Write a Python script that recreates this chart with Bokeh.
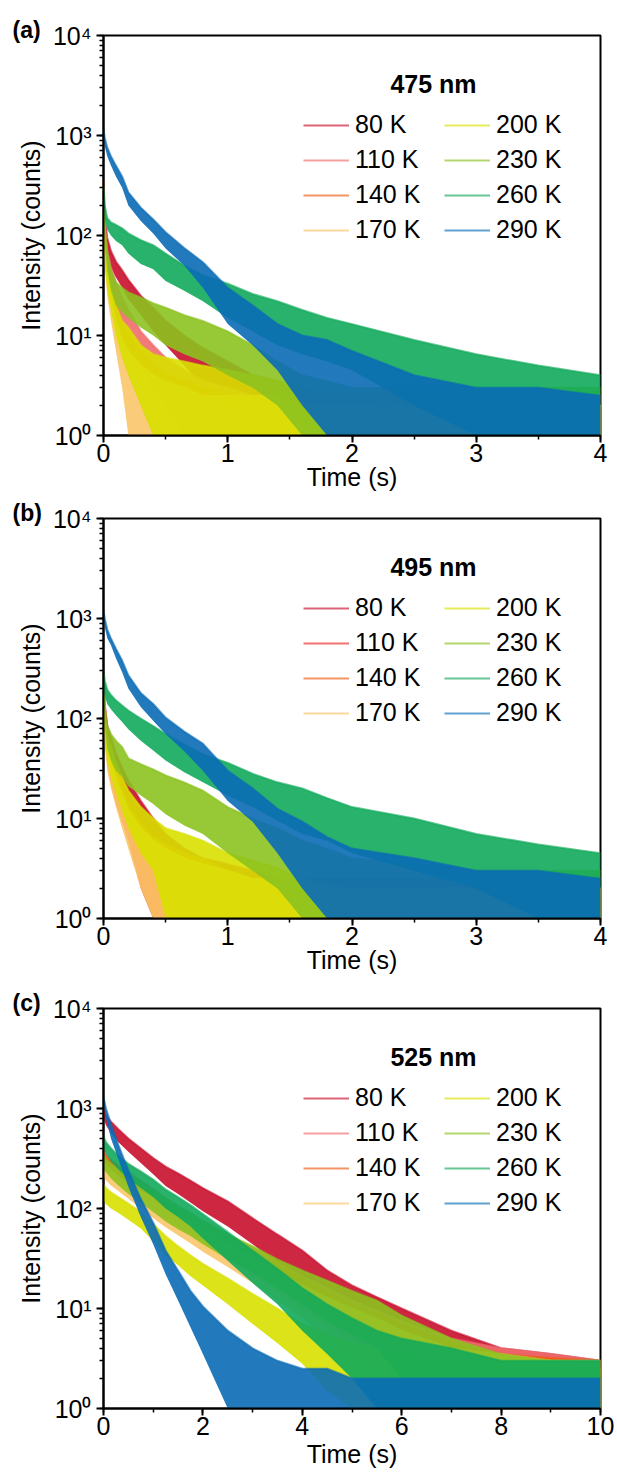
from bokeh.plotting import figure
from bokeh.models import (Range1d, Legend, LegendItem, Label, SingleIntervalTicker,
                          LogTicker)
from bokeh.layouts import column
from bokeh.embed import file_html
from bokeh.resources import INLINE

FONT = "Liberation Sans"

TEMPS = ["80 K", "110 K", "140 K", "170 K", "200 K", "230 K", "260 K", "290 K"]
COLORS_AC = ["#c8102e", "#f06c6c", "#f05a14", "#f9c56a", "#d8e000", "#8cc21f", "#12aa5b", "#0a6cb6"]
COLORS_B = ["#c8102e", "#e8281e", "#f05a14", "#f9c56a", "#d8e000", "#8cc21f", "#12aa5b", "#0a6cb6"]

Y_TICKS = [1, 10, 100, 1000, 10000]
Y_TICK_LABELS = ["10\u2070", "10\u00b9", "10\u00b2", "10\u00b3", "10\u2074"]

# ---------------- panel (a) 475 nm : time grid (s) and noise envelopes (counts)
T_AB = [0, 0.01, 0.03, 0.06, 0.1, 0.15, 0.2, 0.3, 0.4, 0.5, 0.65, 0.8, 1.0, 1.2, 1.4, 1.6, 1.8, 2.0, 2.5, 3.0, 3.5, 4.0]

A80_HI = [320, 160, 95, 70, 55, 45, 36, 25, 19, 14, 10, 7.5, 5.5, 4, 3.5, 3, 2.5, 2.5, 2.5, 2.5, 2.5, 2.5]
A80_LO = [220, 110, 65, 48, 38, 30, 23, 16, 11, 8, 5, 3, 2, 1, 1, 1, 1, 1, 1, 1, 1, 1]
A110_HI = [300, 130, 70, 48, 34, 24, 18, 11, 8, 6, 4.5, 3.5, 3, 2.5, 2.5, 2.5, 2.5, 2.5, 2.5, 2, 2, 2]
A110_LO = [200, 80, 45, 30, 20, 13, 9, 5, 3, 2, 1, 1, 1, 1, 1, 1, 1, 1, 1, 1, 1, 1]
A140_HI = [350, 110, 55, 32, 20, 13, 10, 7, 5, 4, 3.5, 3, 2.5, 2.5, 2.5, 2.5, 2.5, 2.5, 2, 2, 2, 2]
A140_LO = [200, 70, 35, 20, 11, 6, 4, 2, 1, 1, 1, 1, 1, 1, 1, 1, 1, 1, 1, 1, 1, 1]
A170_HI = [300, 80, 40, 24, 14, 9, 7, 5, 4, 3.5, 3, 2.5, 2.5, 2.5, 2.5, 2, 2, 2, 2, 2, 2, 2]
A170_LO = [180, 50, 25, 14, 7, 3, 1, 1, 1, 1, 1, 1, 1, 1, 1, 1, 1, 1, 1, 1, 1, 1]
A200_HI = [250, 90, 45, 30, 20, 14, 12, 8, 6.5, 6, 5.5, 5, 4.5, 4, 3.5, 3, 2.5, 2.5, 2, 2, 2, 2]
A200_LO = [150, 55, 28, 18, 10, 6, 4, 2, 1, 1, 1, 1, 1, 1, 1, 1, 1, 1, 1, 1, 1, 1]
A230_HI = [300, 120, 70, 45, 34, 30, 27, 24, 21, 19, 16, 14, 11, 8, 5.5, 4, 3.5, 3, 3, 3, 3, 3]
A230_LO = [200, 80, 45, 28, 20, 17, 15, 12, 10, 8, 6.5, 5.5, 4, 3, 2, 1, 1, 1, 1, 1, 1, 1]
A260_HI = [320, 200, 150, 135, 128, 118, 105, 90, 80, 66, 50, 40, 33, 26, 22, 18, 15, 13, 9, 6.5, 5, 4]
A260_LO = [250, 150, 115, 100, 88, 80, 66, 52, 46, 35, 28, 22, 15, 11, 8, 6.5, 5.5, 4.5, 2, 1, 1, 1]
A290_HI = [1150, 950, 760, 620, 500, 390, 270, 190, 145, 108, 75, 54, 30, 20, 13, 10, 9, 7, 4, 3, 3, 2.5]
A290_LO = [950, 780, 620, 500, 390, 300, 200, 140, 105, 74, 50, 30, 13, 8, 4.5, 2, 1, 1, 1, 1, 1, 1]

# ---------------- panel (b) 495 nm
B80_HI = [300, 140, 85, 65, 45, 32, 24, 15, 10, 7, 5, 4, 3.5, 3, 2.5, 2.5, 2.5, 2.5, 2.5, 2.5, 2, 2]
B80_LO = [200, 90, 55, 40, 27, 18, 13, 7, 4, 2, 1, 1, 1, 1, 1, 1, 1, 1, 1, 1, 1, 1]
B110_HI = [300, 130, 80, 60, 38, 22, 14, 8, 6, 5, 4, 3.5, 3, 2.5, 2.5, 2, 2, 2, 2, 2, 2, 2]
B110_LO = [200, 80, 50, 35, 20, 10, 6, 2, 1, 1, 1, 1, 1, 1, 1, 1, 1, 1, 1, 1, 1, 1]
B140_HI = [300, 100, 60, 40, 28, 19, 13, 9, 6.5, 5.5, 4.5, 4, 3, 2.5, 2.5, 2.5, 2, 2, 2, 2, 2, 2]
B140_LO = [180, 60, 35, 22, 14, 9, 6, 3, 1, 1, 1, 1, 1, 1, 1, 1, 1, 1, 1, 1, 1, 1]
B170_HI = [280, 90, 50, 35, 25, 17, 12, 8, 6, 5, 4, 3.5, 3, 2.5, 2.5, 2.5, 2, 2, 2, 2, 2, 2]
B170_LO = [160, 55, 30, 20, 13, 8, 5, 2, 1, 1, 1, 1, 1, 1, 1, 1, 1, 1, 1, 1, 1, 1]
B200_HI = [250, 100, 65, 52, 36, 26, 19, 13, 10, 8, 7, 6, 4.5, 3.8, 3.2, 2.5, 2.2, 2, 2, 2, 2, 2]
B200_LO = [150, 60, 38, 26, 18, 12, 8, 4.5, 3, 1, 1, 1, 1, 1, 1, 1, 1, 1, 1, 1, 1, 1]
B230_HI = [280, 130, 85, 70, 60, 52, 40, 35, 31, 27, 23, 19, 13, 10, 8, 6, 5, 4, 3.5, 3, 3, 3]
B230_LO = [180, 85, 50, 38, 30, 26, 21, 17, 14, 11, 8.5, 7, 4.5, 3, 2, 1, 1, 1, 1, 1, 1, 1]
B260_HI = [300, 240, 195, 172, 152, 135, 120, 100, 84, 70, 55, 44, 36, 28, 23, 20, 16, 13, 10, 7, 5.5, 4.5]
B260_LO = [200, 170, 140, 124, 108, 92, 78, 60, 48, 38, 29, 23, 17, 13, 9.5, 7, 6, 4.5, 3, 2, 1, 1]
B290_HI = [1200, 1000, 780, 630, 500, 380, 270, 180, 140, 102, 74, 56, 30, 20, 12.5, 9.3, 6.5, 5, 4, 3, 3, 2.5]
B290_LO = [1000, 820, 640, 540, 400, 290, 200, 130, 95, 70, 47, 30, 15, 9.3, 4.5, 2, 1, 1, 1, 1, 1, 1]

# ---------------- panel (c) 525 nm
T_C = [0, 0.05, 0.15, 0.3, 0.5, 0.75, 1.0, 1.25, 1.5, 1.75, 2.0, 2.5, 3.0, 3.5, 4.0, 4.5, 5.0, 5.5, 6.0, 7.0, 8.0, 9.0, 10.0]

C80_HI = [1000, 850, 740, 620, 500, 400, 320, 262, 225, 190, 160, 118, 80, 55, 38, 24, 17, 13, 10, 6, 4, 3.5, 3]
C80_LO = [800, 680, 570, 460, 370, 285, 220, 168, 140, 115, 94, 66, 44, 28, 19, 12, 8.5, 6, 4, 2, 1, 1, 1]
C110_HI = [400, 350, 310, 270, 230, 190, 158, 128, 106, 90, 75, 55, 40, 29, 21, 16, 12, 9.5, 7.5, 5, 4, 3.5, 3]
C110_LO = [290, 255, 225, 195, 160, 130, 105, 84, 69, 57, 47, 33, 23, 16, 10.5, 7, 5, 3.5, 2.5, 1, 1, 1, 1]
C140_HI = [370, 330, 300, 260, 220, 185, 150, 122, 102, 86, 72, 52, 38, 28, 20, 15, 11, 9, 7, 4.5, 3.5, 3.2, 3]
C140_LO = [270, 240, 215, 185, 155, 125, 100, 80, 66, 55, 45, 31, 22, 15, 10, 6.5, 4.5, 3, 2, 1, 1, 1, 1]
C170_HI = [300, 270, 240, 210, 180, 150, 125, 100, 85, 72, 60, 44, 32, 23, 17, 13, 10, 8, 6, 4, 3.5, 3, 3]
C170_LO = [210, 190, 170, 150, 125, 100, 80, 65, 54, 45, 37, 26, 18, 12, 8, 5, 3.5, 2.5, 1.5, 1, 1, 1, 1]
C200_HI = [175, 160, 145, 130, 112, 92, 70, 53, 42, 34, 28, 20, 14, 10, 7, 5.5, 4.5, 4, 3.5, 3, 3, 3, 2.5]
C200_LO = [120, 110, 100, 90, 77, 63, 47, 34, 27, 21, 17, 11, 7, 4.5, 2.8, 1.5, 1, 1, 1, 1, 1, 1, 1]
C230_HI = [340, 310, 280, 245, 215, 180, 150, 124, 105, 90, 75, 55, 42, 31, 24, 19, 15, 12, 8.5, 5, 3.5, 3, 3]
C230_LO = [250, 230, 200, 170, 140, 115, 92, 74, 62, 53, 44, 31, 23, 16, 11, 7.5, 5.5, 4, 2, 1, 1, 1, 1]
C260_HI = [520, 460, 400, 335, 280, 235, 195, 155, 130, 108, 88, 58, 38, 25, 16, 11, 8, 6, 5, 4, 3, 3, 3]
C260_LO = [400, 350, 295, 245, 200, 160, 130, 100, 82, 66, 50, 30, 18, 11, 6, 3.5, 2, 1, 1, 1, 1, 1, 1]
C290_HI = [1300, 1000, 700, 430, 240, 125, 72, 38, 24, 15, 10.5, 6, 4, 3, 2.5, 2.5, 2, 2, 2, 2, 2, 2, 2]
C290_LO = [1100, 800, 500, 310, 165, 82, 44, 22, 12, 6.5, 3.5, 1, 1, 1, 1, 1, 1, 1, 1, 1, 1, 1, 1]


def make_panel(letter, title, times, his, los, colors, xmax, xstep,
               height, top, bottom, xlabel_standoff):
    p = figure(width=617, height=height, output_backend="svg", toolbar_location=None,
               y_axis_type="log", x_range=Range1d(0, xmax), y_range=Range1d(1, 10000),
               min_border_left=103, min_border_right=17, min_border_top=top,
               min_border_bottom=bottom)
    p.xgrid.visible = False
    p.ygrid.visible = False
    p.outline_line_color = "black"
    p.outline_line_width = 2
    p.outline_line_alpha = 1
    p.background_fill_color = "white"
    p.border_fill_color = "white"

    # panel letter as the figure title, pushed to the left edge and down
    p.title.text = letter
    p.title.align = "left"
    p.title.offset = -91
    p.title.standoff = -14
    p.title.text_font = FONT
    p.title.text_font_size = "23px"
    p.title.text_font_style = "bold"
    p.title.text_color = "black"

    lines = []
    for hi, lo, c in zip(his, los, colors):
        p.varea(x=times, y1=lo, y2=hi, fill_color=c, fill_alpha=0.9)
        r = p.line(times, hi, line_color=c, line_width=2, line_alpha=0.65)
        lines.append(r)

    # axes
    p.xaxis.ticker = SingleIntervalTicker(interval=xstep, num_minor_ticks=2)
    p.yaxis.ticker = LogTicker(num_minor_ticks=10)
    p.yaxis.major_label_overrides = {t: s for t, s in zip(Y_TICKS, Y_TICK_LABELS)}
    for ax in (p.xaxis, p.yaxis):
        ax.axis_line_width = 2
        ax.axis_line_color = "black"
        ax.major_tick_line_width = 2
        ax.major_tick_line_color = "black"
        ax.minor_tick_line_width = 1.5
        ax.minor_tick_line_color = "black"
        ax.major_tick_in = 0
        ax.major_tick_out = 7
        ax.minor_tick_in = 0
        ax.minor_tick_out = 4
        ax.major_label_text_font = FONT
        ax.major_label_text_font_size = "25px"
        ax.major_label_text_color = "black"
        ax.axis_label_text_font = FONT
        ax.axis_label_text_font_size = "25px"
        ax.axis_label_text_font_style = "normal"
        ax.axis_label_text_color = "black"
    p.xaxis.axis_label = "Time (s)"
    p.yaxis.axis_label = "Intensity (counts)"
    p.xaxis.major_label_standoff = 1
    p.xaxis.axis_label_standoff = xlabel_standoff
    p.yaxis.major_label_standoff = 5
    p.yaxis.axis_label_standoff = 5

    # legend: two columns of four entries
    for k, xoff in enumerate((200, 341)):
        items = [LegendItem(label=TEMPS[4 * k + i], renderers=[lines[4 * k + i]]) for i in range(4)]
        leg = Legend(items=items, location=(xoff, 191), orientation="vertical",
                     glyph_width=46, glyph_height=28, label_height=28, spacing=6,
                     label_standoff=6, padding=0, margin=0,
                     border_line_alpha=0, background_fill_alpha=0,
                     label_text_font=FONT, label_text_font_size="25px",
                     label_text_color="black")
        p.add_layout(leg)

    # wavelength title inside the frame
    px = xmax / 497.0
    p.add_layout(Label(x=330 * px, y=10 ** 3.52, text=title, text_font=FONT,
                       text_font_size="25px", text_font_style="bold",
                       text_align="center", text_baseline="middle", text_color="black"))
    return p


pa = make_panel("(a)", "475 nm", T_AB,
                [A80_HI, A110_HI, A140_HI, A170_HI, A200_HI, A230_HI, A260_HI, A290_HI],
                [A80_LO, A110_LO, A140_LO, A170_LO, A200_LO, A230_LO, A260_LO, A290_LO],
                COLORS_AC, 4, 1, 497, 35, 62, -2)
pb = make_panel("(b)", "495 nm", T_AB,
                [B80_HI, B110_HI, B140_HI, B170_HI, B200_HI, B230_HI, B260_HI, B290_HI],
                [B80_LO, B110_LO, B140_LO, B170_LO, B200_LO, B230_LO, B260_LO, B290_LO],
                COLORS_B, 4, 1, 483, 21, 62, -2)
pc = make_panel("(c)", "525 nm", T_C,
                [C80_HI, C110_HI, C140_HI, C170_HI, C200_HI, C230_HI, C260_HI, C290_HI],
                [C80_LO, C110_LO, C140_LO, C170_LO, C200_LO, C230_LO, C260_LO, C290_LO],
                COLORS_AC, 10, 2, 494, 28, 66, 2)

layout = column(pa, pb, pc, spacing=0)
open("out.html", "w").write(file_html(layout, INLINE))
